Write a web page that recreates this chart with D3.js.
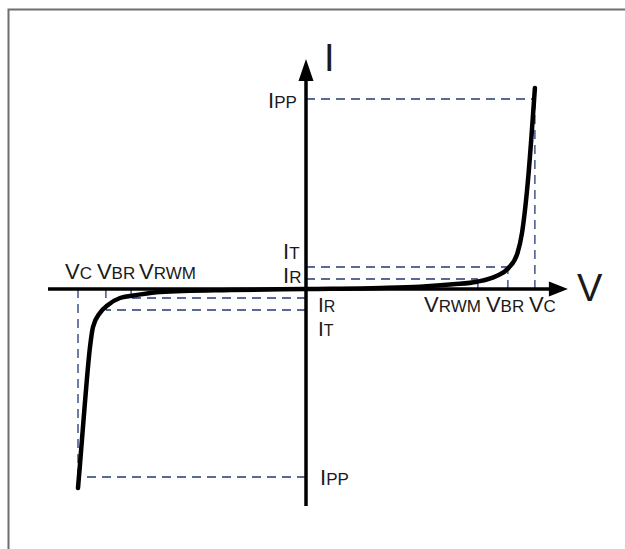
<!DOCTYPE html>
<html lang="en">
<head>
	<meta charset="utf-8">
	<title>TVS diode I-V characteristic</title>
	<script src="https://d3js.org/d3.v7.min.js"></script>
	<style type="text/css">
		body {
			margin: 0;
			background: #fff;
		}
		svg {
			display: block;
		}
		text {
			font-family: "Liberation Sans", Arial, sans-serif;
			fill: #1a1a1a;
		}
	</style>
</head>
<body>
	<script type="text/javascript">

		//Width and height
		var w = 625;
		var h = 549;

		//I-V curve (V in volts, I in arbitrary units)
		var curveV = [-7.6, -7.53, -7.37, -7.2, -7.1, -6.87, -6.6, -6.2, -5.63, -4.87, -2.53, 0,
		              2.5, 3.8, 4.9, 5.7, 6.35, 6.75, 7.05, 7.2, 7.3, 7.4, 7.63];
		var curveI = [-19.9, -17.4, -11.4, -5.8, -3.8, -2.4, -1.6, -0.9, -0.6, -0.3, -0.1, 0,
		              0.1, 0.23, 0.47, 0.73, 1.3, 2.1, 3.6, 5.6, 7.9, 10.9, 20.1];

		//Characteristic levels: positive side and negative side
		var posV = { RWM: 5.73, BR: 6.73, C: 7.63 };
		var negV = { RWM: -5.83, BR: -6.67, C: -7.6 };
		var posI = { R: 1.0, T: 2.2, PP: 19 };
		var negI = { R: -0.9, T: -2.1, PP: -18.8 };

		//Axis extents
		var vRange = [-8.6, 8.73];
		var iRange = [-21.7, 23];

		//Scales
		var x = d3.scaleLinear().domain([-10, 10]).range([6, 606]);
		var y = d3.scaleLinear().domain([-20, 20]).range([489, 89]);

		var svg = d3.select("body")
					.append("svg")
					.attr("width", w)
					.attr("height", h);

		//frame (cut off at right and bottom)
		svg.append("path")
		   .attr("d", "M" + (w + 5) + ",9.5H8.5V" + (h + 5))
		   .attr("fill", "none")
		   .attr("stroke", "#6e6e6e")
		   .attr("stroke-width", 2);

		var dash = svg.append("g")
		   .attr("fill", "none")
		   .attr("stroke", "#23397a")
		   .attr("stroke-width", 1.3)
		   .attr("stroke-dasharray", "9,6");

		//guide lines: horizontal from the I axis to V level, vertical from level down/up to V axis
		function guide(v, i) {
			dash.append("line")
				.attr("x1", x(0)).attr("x2", x(v))
				.attr("y1", y(i)).attr("y2", y(i));
			dash.append("line")
				.attr("x1", x(v)).attr("x2", x(v))
				.attr("y1", y(0)).attr("y2", y(i));
		}
		guide(posV.C, posI.PP);
		guide(posV.BR, posI.T);
		guide(posV.RWM, posI.R);
		guide(negV.C, negI.PP);
		guide(negV.BR, negI.T);
		guide(negV.RWM, negI.R);

		//axes
		svg.append("line")
		   .attr("x1", x(vRange[0])).attr("x2", x(vRange[1]) - 14)
		   .attr("y1", y(0)).attr("y2", y(0))
		   .attr("stroke", "#000").attr("stroke-width", 3.5);
		svg.append("path")
		   .attr("d", "M" + x(vRange[1]) + "," + y(0) + "l-19,-7.5v15z")
		   .attr("fill", "#000");

		svg.append("line")
		   .attr("x1", x(0)).attr("x2", x(0))
		   .attr("y1", y(iRange[0])).attr("y2", y(iRange[1]) + 16)
		   .attr("stroke", "#000").attr("stroke-width", 3.5);
		svg.append("path")
		   .attr("d", "M" + x(0) + "," + y(iRange[1]) + "l-7.5,22h15z")
		   .attr("fill", "#000");

		//curve
		var line = d3.line()
					 .x(function(d) { return x(d[0]); })
					 .y(function(d) { return y(d[1]); })
					 .curve(d3.curveMonotoneX);

		svg.append("path")
		   .datum(d3.zip(curveV, curveI))
		   .attr("d", line)
		   .attr("fill", "none")
		   .attr("stroke", "#000")
		   .attr("stroke-width", 4.5)
		   .attr("stroke-linecap", "round");

		//labels: big letter + smaller suffix on the same baseline
		function label(px, py, main, sub, anchor, size) {
			size = size || 22;
			var t = svg.append("text")
				.attr("x", px).attr("y", py)
				.attr("text-anchor", anchor || "start");
			t.append("tspan").attr("font-size", size).text(main);
			t.append("tspan").attr("font-size", size - 5).text(sub);
			return t;
		}

		//axis names
		svg.append("text").attr("x", x(0) + 18).attr("y", y(iRange[1]) + 12)
		   .attr("font-size", 38).text("I");
		svg.append("text").attr("x", x(vRange[1]) + 9).attr("y", y(0) + 12)
		   .attr("font-size", 38).text("V");

		//V labels below the axis (positive side)
		label(x(posV.RWM) + 3, y(0) + 23, "V", "RWM", "end");
		label(x(posV.BR) - 22, y(0) + 23, "V", "BR");
		label(x(posV.C) - 6, y(0) + 23, "V", "C");

		//V labels above the axis (negative side)
		label(x(negV.C) - 13, y(0) - 10, "V", "C");
		label(x(negV.BR) - 9, y(0) - 10, "V", "BR");
		label(x(negV.RWM) + 8, y(0) - 10, "V", "RWM");

		//I labels
		label(x(0) - 38, y(posI.PP) + 9, "I", "PP");
		label(x(0) - 23, y(posI.T) - 8, "I", "T");
		label(x(0) - 23, y(posI.R) + 4, "I", "R");
		label(x(0) + 12, y(negI.R) + 14, "I", "R", "start", 21);
		label(x(0) + 12, y(negI.T) + 26, "I", "T", "start", 21);
		label(x(0) + 14, y(negI.PP) + 8, "I", "PP");

	</script>
</body>
</html>
